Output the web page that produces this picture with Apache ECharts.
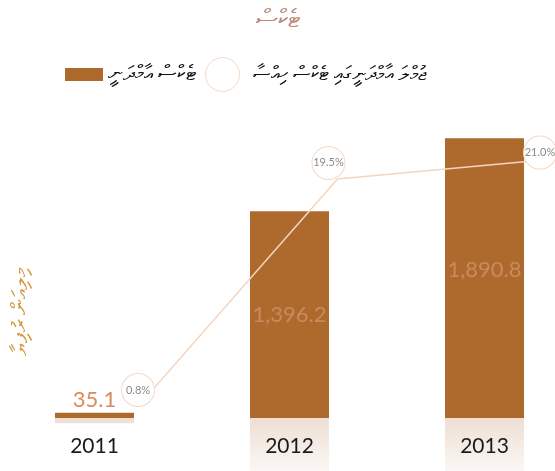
<!DOCTYPE html>
<html>
<head>
<meta charset="utf-8">
<script src="https://cdn.jsdelivr.net/npm/echarts@6/dist/echarts.min.js"></script>
<style>
  html, body { margin: 0; padding: 0; background: #fff; }
  #chart { width: 555px; height: 471px; }
</style>
</head>
<body>
<div id="chart"></div>
<script>
// values
const years = ['2011', '2012', '2013'];
const taxRevenue = [35.1, 1396.2, 1890.8];      // million rufiyaa
const taxShare = [0.8, 19.5, 21.0];             // % of total revenue

const titleText = 'ޓެކްސް';
const barName = 'ޓެކްސް އާމްދަނީ';
const lineName = 'ޖުމްލަ އާމްދަނީގައި ޓެކްސް ހިއްސާ';
const yName = 'މިލިއަން ރުފިޔާ';

const thaanaFont = '"Noto Sans", "DejaVu Sans", sans-serif';
const numFont = 'Lato, "Open Sans", sans-serif';

const chart = echarts.init(document.getElementById('chart'));

// per point tweaks for where the circles sit (label placement only)
const circleOffsets = [[-10, -5], [-9, -16], [13, -9]];
const barLabelPos = ['top', 'inside', 'inside'];
const barLabelOffset = [[0, 0], [0, 0], [0, -8]];

const option = {
  animation: false,
  title: {
    text: titleText,
    left: 'center',
    top: 2,
    textStyle: { color: '#b98a78', fontSize: 25, fontWeight: 'normal', fontFamily: thaanaFont }
  },
  legend: [
    {
      data: [{ name: barName, icon: 'rect' }],
      left: 60, top: 59,
      itemWidth: 38, itemHeight: 13,
      itemGap: 4,
      textStyle: { color: '#111', fontSize: 21, fontFamily: thaanaFont }
    },
    {
      data: [{ name: lineName, icon: 'circle' }],
      left: 200, top: 52,
      itemWidth: 34, itemHeight: 34,
      itemStyle: { color: '#fff', borderColor: '#f3d9c7', borderWidth: 1 },
      textStyle: { color: '#111', fontSize: 20, fontFamily: thaanaFont, padding: [0, 0, 0, 8] }
    }
  ],
  graphic: [
    {
      type: 'text',
      x: 21, y: 312,
      rotation: Math.PI / 2,
      style: {
        text: yName,
        fill: '#d4973f',
        fontSize: 22,
        fontFamily: thaanaFont,
        align: 'center',
        verticalAlign: 'middle'
      }
    }
  ],
  grid: [
    { left: -3, right: -27, top: 122, bottom: -6.2, outerBoundsMode: 'none' },
    { left: 148, right: 28, top: 115.4, bottom: 66.8, outerBoundsMode: 'none' }
  ],
  xAxis: [
    {
      type: 'category',
      gridIndex: 0,
      data: years,
      z: 10,
      offset: -59.2,
      axisLine: { show: false, onZero: false },
      axisTick: { show: false },
      axisLabel: {
        margin: 18,
        color: '#1a1a1a',
        fontSize: 21,
        fontFamily: numFont
      }
    },
    {
      type: 'category',
      gridIndex: 1,
      data: years,
      boundaryGap: false,
      show: false
    }
  ],
  yAxis: [
    { type: 'value', gridIndex: 0, min: -400, max: 2000, show: false },
    { type: 'value', gridIndex: 1, min: 0, max: 25, show: false }
  ],
  series: [
    {
      name: barName,
      type: 'bar',
      xAxisIndex: 0, yAxisIndex: 0,
      barWidth: 79,
      itemStyle: { color: '#ae6a2d' },
      data: taxRevenue.map((v, i) => ({
        value: v,
        label: {
          show: true,
          position: barLabelPos[i],
          offset: barLabelOffset[i],
          formatter: p => p.value.toLocaleString('en-US', { minimumFractionDigits: 1 }),
          color: i === 0 ? '#d98b5b' : '#c98a5f',
          fontSize: 22,
          fontFamily: numFont,
          distance: 2
        }
      }))
    },
    {
      // soft reflection under the bars
      name: 'reflection',
      type: 'bar',
      xAxisIndex: 0, yAxisIndex: 0,
      barWidth: 79,
      barGap: '-100%',
      silent: true,
      z: 1,
      itemStyle: {
        color: new echarts.graphic.LinearGradient(0, 418, 0, 471, [
          { offset: 0, color: '#eedfd4' },
          { offset: 1, color: '#fbf7f4' }
        ], true)
      },
      data: taxRevenue.map(v => -v)
    },
    {
      name: lineName,
      type: 'line',
      xAxisIndex: 1, yAxisIndex: 1,
      z: 5,
      symbol: 'circle',
      symbolSize: 1,
      lineStyle: { color: '#f3d5c1', width: 1.5 },
      itemStyle: { color: '#f3d5c1' },
      data: taxShare.map((v, i) => ({
        value: v,
        label: {
          show: true,
          position: 'inside',
          offset: circleOffsets[i],
          formatter: p => p.value.toFixed(1) + '%',
          color: '#8a8a8a',
          fontSize: 11,
          fontFamily: numFont,
          backgroundColor: '#fff',
          borderColor: '#f3d9c7',
          borderWidth: 1,
          borderRadius: 17,
          width: 32,
          height: 32,
          lineHeight: 32,
          align: 'center',
          verticalAlign: 'middle'
        }
      }))
    }
  ]
};

chart.setOption(option);
</script>
</body>
</html>
